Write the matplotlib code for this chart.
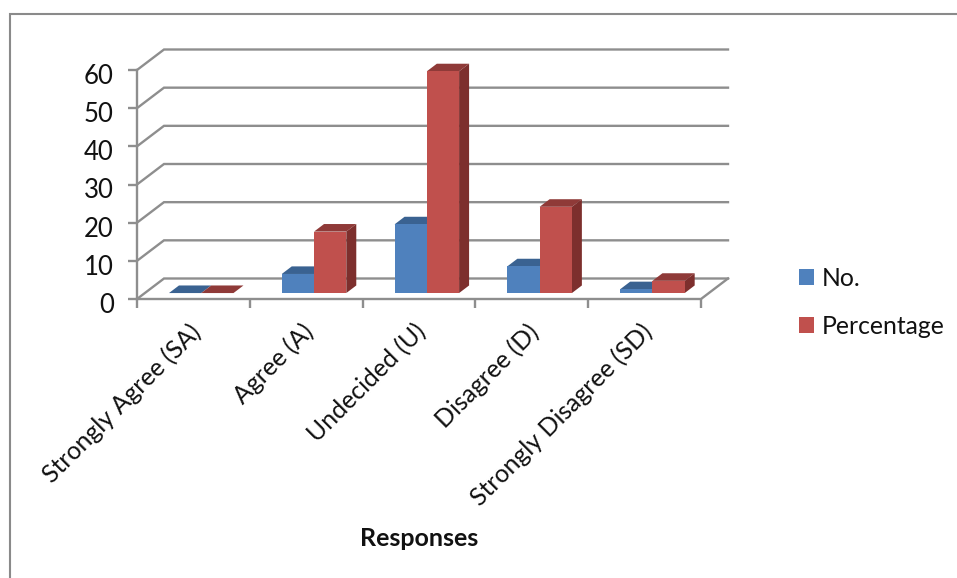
import matplotlib
matplotlib.use("Agg")
import matplotlib.pyplot as plt
from matplotlib.lines import Line2D
from matplotlib.patches import Patch
from matplotlib.transforms import ScaledTranslation

categories = ["Strongly Agree (SA)", "Agree (A)", "Undecided (U)", "Disagree (D)", "Strongly Disagree (SD)"]
no_values = [0, 5, 18, 7, 1]
pct_values = [0, 16.1, 58.1, 22.6, 3.2]
y_ticks = [0, 10, 20, 30, 40, 50, 60]
series_names = ["No.", "Percentage"]
x_axis_title = "Responses"

W, H = 957, 578
plt.rcParams["font.family"] = ["Lato", "DejaVu Sans"]
fig = plt.figure(figsize=(W / 100, H / 100), dpi=100, facecolor="white")
L, R, B, T = 137, 701, 299, 70
ax = fig.add_axes([L / W, 1 - B / H, (R - L) / W, (B - T) / H])
ax.set_xlim(0, len(categories))
ax.set_ylim(0, 60)
for s in ax.spines.values():
    s.set_visible(False)
ax.patch.set_visible(False)

GRID = "#8e8e8e"
LW = 1.7
DX = 27 / ((R - L) / len(categories))   # floor depth in category units
DY = 20.5 / ((B - T) / 60)              # floor depth in value units


def project(x, y, d):
    return x + d * DX, y + d * DY


# walls and floor
n = len(categories)
for v in y_ticks:
    x0, y0 = project(0, v, 0)
    x1, y1 = project(0, v, 1)
    x2, y2 = project(n, v, 1)
    ax.plot([x0, x1, x2], [y0, y1, y2], color=GRID, lw=LW, clip_on=False, zorder=1,
            solid_joinstyle="miter")
x0, y0 = project(n, 0, 0)
x1, y1 = project(n, 0, 1)
ax.plot([0, n, x1], [0, 0, y1], color=GRID, lw=LW, clip_on=False, zorder=1)
ax.plot([0, 0], [0, 60], color=GRID, lw=LW, clip_on=False, zorder=1)

# 3D bars
FRONT_D, BACK_D = 0.29, 0.66
BAR_W = 0.286
colors = {
    0: ("#4F81BD", "#3A6291", "#31547C"),
    1: ("#C0504D", "#8F3A38", "#7D2F2D"),
}


def bar3d(left, width, height, face, top, side, z):
    fx0, fy0 = project(left, 0, FRONT_D)
    fx1 = fx0 + width
    fy1 = fy0 + height
    ddx = (BACK_D - FRONT_D) * DX
    ddy = (BACK_D - FRONT_D) * DY
    ax.fill([fx0, fx1, fx1 + ddx, fx0 + ddx], [fy1, fy1, fy1 + ddy, fy1 + ddy],
            color=top, lw=0, clip_on=False, zorder=z)
    ax.fill([fx1, fx1 + ddx, fx1 + ddx, fx1], [fy0, fy0 + ddy, fy1 + ddy, fy1],
            color=side, lw=0, clip_on=False, zorder=z)
    ax.fill([fx0, fx1, fx1, fx0], [fy0, fy0, fy1, fy1],
            color=face, lw=0, clip_on=False, zorder=z + 0.1)


for i in range(n):
    centre = i + 0.5
    bar3d(centre - BAR_W, BAR_W, no_values[i], *colors[0], 2 + i * 0.01)
    bar3d(centre, BAR_W, pct_values[i], *colors[1], 3 + i * 0.01)

# axes ticks
ax.set_yticks(y_ticks)
ax.set_xticks(range(n + 1))
ax.set_xticklabels([])
ax.tick_params(axis="both", which="major", color=GRID, width=LW, length=6.2, labelsize=18.5,
               labelcolor="#111111", pad=10.5)
yshift = ScaledTranslation(0, -4 / 100, fig.dpi_scale_trans)
for lab in ax.get_yticklabels():
    lab.set_transform(lab.get_transform() + yshift)
ax.set_xticks([i + 0.5 for i in range(n)], minor=True)
ax.set_xticklabels(categories, minor=True, rotation=45, ha="right", va="top",
                   rotation_mode="anchor", fontsize=17.9, color="#111111")
ax.tick_params(axis="x", which="minor", length=0, pad=15)
shift = ScaledTranslation(-5 / 100, 0, fig.dpi_scale_trans)
for lab in ax.get_xticklabels(minor=True):
    lab.set_transform(lab.get_transform() + shift)

fig.text(419 / W, 1 - 538 / H, x_axis_title, ha="center", va="center", fontsize=18,
         fontweight="bold", color="#111111")

handles = [Patch(color=colors[0][0], lw=0), Patch(color=colors[1][0], lw=0)]
fig.legend(handles, series_names, loc="upper left", bbox_to_anchor=(799 / W, 1 - 267 / H),
           frameon=False, fontsize=17.8, handlelength=0.61, handleheight=0.61,
           handletextpad=0.32, labelspacing=1.0, borderpad=0, borderaxespad=0,
           labelcolor="#111111")

# outer chart frame (top and left edges)
fig.add_artist(Line2D([9.5 / W, 9.5 / W, 1], [0, 1 - 13.5 / H, 1 - 13.5 / H],
                      color="#8a8a8a", lw=1.5, solid_joinstyle="miter"))

fig.savefig("out.png", dpi=100)
